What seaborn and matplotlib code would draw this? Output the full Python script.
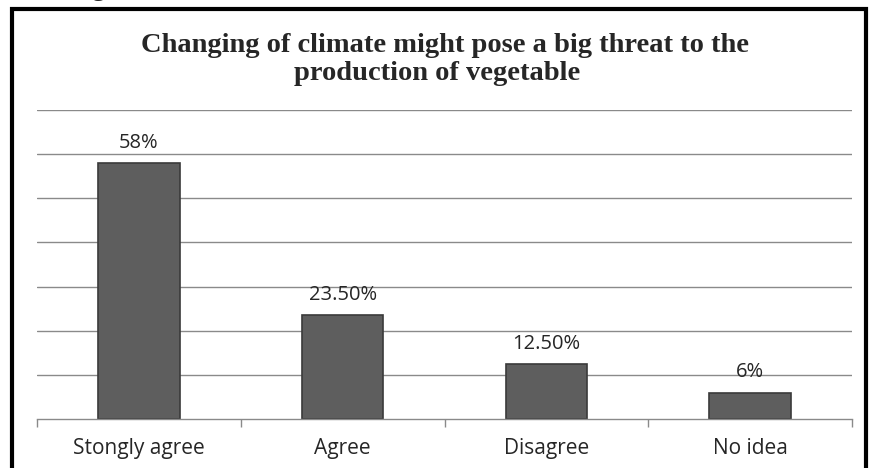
import matplotlib
matplotlib.use("Agg")
import matplotlib.pyplot as plt
import seaborn as sns
import pandas as pd
from matplotlib.patches import Rectangle
from matplotlib.ticker import FixedLocator

# chart data
categories = ["Stongly agree", "Agree", "Disagree", "No idea"]
values = [58, 23.5, 12.5, 6]
value_labels = ["58%", "23.50%", "12.50%", "6%"]

sns.set_style("white")
plt.rcParams['font.family'] = ['Open Sans', 'DejaVu Sans']

df = pd.DataFrame({"answer": categories, "pct": values})

fig = plt.figure(figsize=(8.69, 4.68), dpi=100)
ax = fig.add_axes([37/869, 49/468, (852-37)/869, (419-110)/468])

sns.barplot(data=df, x="answer", y="pct", ax=ax, color="#5e5e5e",
            width=0.4, edgecolor="#3a3a3a", linewidth=1.2, saturation=1)

for i, (v, lab) in enumerate(zip(values, value_labels)):
    ax.text(i, v + 4.6, lab, ha="center", va="center", fontsize=14.5,
            color="#262626")

ax.set_ylim(0, 70)
ax.set_xlim(-0.5, 3.5)
ax.set_yticks(range(10, 71, 10))
ax.set_yticklabels([])
ax.tick_params(axis="y", length=0)
ax.yaxis.grid(True, color="#8a8a8a", linewidth=1)
ax.set_axisbelow(True)
ax.set_xlabel("")
ax.set_ylabel("")
ax.tick_params(axis="x", which="major", length=0, labelsize=15, pad=14,
               labelcolor="#262626")
ax.xaxis.set_minor_locator(FixedLocator([-0.5, 0.5, 1.5, 2.5, 3.5]))
ax.tick_params(axis="x", which="minor", length=6, width=1, color="#8a8a8a",
               direction="out", bottom=True)
for s in ["left", "right", "top"]:
    ax.spines[s].set_visible(False)
ax.spines["bottom"].set_color("#8a8a8a")
ax.spines["bottom"].set_linewidth(1)

fig.text(445/869, 1 - 46/468, "Changing of climate might pose a big threat to the",
         ha="center", va="center", fontsize=20.5, fontweight="bold",
         family="Liberation Serif")
fig.text(437/869, 1 - 73/468, "production of vegetable",
         ha="center", va="center", fontsize=20.5, fontweight="bold",
         family="Liberation Serif")

# cut-off caption at the top
fig.text(70/869, 1 + 12/468, "ing", ha="left", va="center", fontsize=20,
         family="Liberation Serif")

# outer frame
fig.patches.append(Rectangle((11.5/869, -0.1), (866 - 11.5)/869, 1.1 - 9.5/468,
                             transform=fig.transFigure, fill=False,
                             edgecolor="black", linewidth=3))

fig.savefig("out.png", dpi=100)
